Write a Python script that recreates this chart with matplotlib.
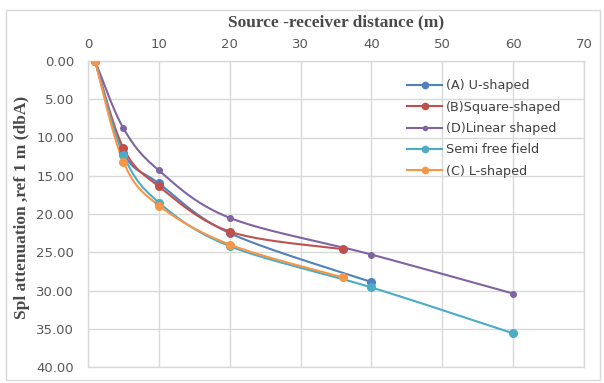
import numpy as np
import matplotlib
matplotlib.use("Agg")
import matplotlib.pyplot as plt
from matplotlib.patches import Rectangle

# Data
u_x = [1, 5, 10, 20, 40]
u_y = [0.0, 12.0, 16.0, 22.5, 28.9]
sq_x = [1, 5, 10, 20, 36]
sq_y = [0.0, 11.4, 16.4, 22.3, 24.6]
lin_x = [1, 5, 10, 20, 40, 60]
lin_y = [0.0, 8.8, 14.3, 20.5, 25.3, 30.4]
semi_x = [1, 5, 10, 20, 40, 60]
semi_y = [0.0, 12.3, 18.5, 24.2, 29.6, 35.6]
l_x = [1, 5, 10, 20, 36]
l_y = [0.0, 13.2, 18.9, 24.0, 28.3]

labels = ["(A) U-shaped", "(B)Square-shaped", "(D)Linear shaped", "Semi free field", "(C) L-shaped"]
colors = ["#4F81BD", "#C0504D", "#8064A2", "#4BACC6", "#F79646"]
series = [(u_x, u_y), (sq_x, sq_y), (lin_x, lin_y), (semi_x, semi_y), (l_x, l_y)]
msizes = [5.5, 5.5, 4, 5.5, 5.5]

x_ticks = [0, 10, 20, 30, 40, 50, 60, 70]
y_ticks = [0, 5, 10, 15, 20, 25, 30, 35, 40]


def smooth(x, y, n=40):
    x = np.asarray(x, float)
    y = np.asarray(y, float)
    P = np.column_stack([x, y])
    out = [P[0]]
    t = np.linspace(0, 1, n)[1:]
    for i in range(len(P) - 1):
        p0 = P[i - 1] if i > 0 else P[i]
        p1 = P[i]
        p2 = P[i + 1]
        p3 = P[i + 2] if i + 2 < len(P) else P[i + 1]
        c1 = p1 + (p2 - p0) / 6.0
        c2 = p2 - (p3 - p1) / 6.0
        for tt in t:
            b = ((1 - tt) ** 3) * p1 + 3 * ((1 - tt) ** 2) * tt * c1 + 3 * (1 - tt) * tt ** 2 * c2 + tt ** 3 * p2
            out.append(b)
    out = np.array(out)
    return out[:, 0], out[:, 1]


fig = plt.figure(figsize=(6.04, 3.83), dpi=100)
fig.patches.append(Rectangle((6 / 604, 3 / 383), 594 / 604, 370 / 383, transform=fig.transFigure,
                             fill=False, edgecolor="#d9d9d9", linewidth=1.0))
ax = fig.add_axes([88 / 604, 1 - 367 / 383, (584 - 88) / 604, (367 - 61) / 383])

for (xs, ys), lab, c, ms in zip(series, labels, colors, msizes):
    sx, sy = smooth(xs, ys)
    ax.plot(sx, sy, color=c, lw=1.5, zorder=3)
    ax.plot(xs, ys, linestyle="none", marker="o", ms=ms, color=c, zorder=4)
    ax.plot([], [], color=c, lw=1.5, marker="o", ms=ms - 1, label=lab)

ax.set_xlim(0, 70)
ax.set_ylim(40, 0)
ax.xaxis.tick_top()
ax.set_xticks(x_ticks)
ax.set_yticks(y_ticks)
ax.set_yticklabels([f"{v:.2f}" for v in y_ticks])
ax.tick_params(length=0, labelsize=9.5, labelcolor="#595959")
ax.tick_params(axis="y", pad=10)
ax.tick_params(axis="x", pad=7)
ax.grid(True, color="#d9d9d9", lw=1.0)
ax.set_axisbelow(True)
for s in ax.spines.values():
    s.set_color("#d9d9d9")
    s.set_linewidth(1.0)

fig.text(336 / 604, 1 - 22 / 383, "Source -receiver distance (m)", fontfamily="Liberation Serif",
         fontweight="bold", fontsize=12.5, color="#4a4a4a", ha="center", va="center")
fig.text(22 / 604, 1 - 207 / 383, "Spl attenuation ,ref 1 m (dbA)", fontfamily="Liberation Serif",
         fontweight="bold", fontsize=12.5, color="#4a4a4a", ha="center", va="center", rotation=90)

leg = ax.legend(loc="upper left", bbox_to_anchor=(401 / 604, 1 - 73 / 383),
                bbox_transform=fig.transFigure, frameon=False, fontsize=9.2,
                handlelength=2.7, labelspacing=0.65, handletextpad=0.3, borderpad=0)
for t in leg.get_texts():
    t.set_color("#404040")

fig.savefig("out.png", dpi=100)
